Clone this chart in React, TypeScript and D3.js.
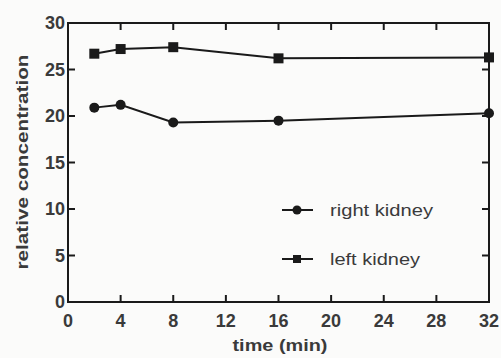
import React from "react";
import * as d3 from "d3";

const times = [2, 4, 8, 16, 32];
const rightKidney = [20.9, 21.2, 19.3, 19.5, 20.3];
const leftKidney = [26.7, 27.2, 27.4, 26.2, 26.3];
const xTicks = [0, 4, 8, 12, 16, 20, 24, 28, 32];
const yTicks = [0, 5, 10, 15, 20, 25, 30];
const seriesNames = ["right kidney", "left kidney"];

export default function App() {
  const W = 501, H = 358;
  const m = { left: 68, right: 489, top: 23, bottom: 302 };
  const x = d3.scaleLinear().domain([0, 32]).range([m.left, m.right]);
  const y = d3.scaleLinear().domain([0, 30]).range([m.bottom, m.top]);
  const line = d3.line<number>().x((_, i) => x(times[i])).y((d) => y(d));
  const tl = 7;
  const font = "'Liberation Sans', Arial, sans-serif";
  const col = "#1a1a1a";
  const txt = "#3a3a3a";
  const sq = 10;
  const legendLens = [103, 90];
  return (
    <svg width={W} height={H} style={{ position: "absolute", left: 0, top: 0, background: "#fbfbfa" }}>
      <rect x={0} y={0} width={W} height={H} fill="#fbfbfa" />
      <rect x={m.left} y={m.top} width={m.right - m.left} height={m.bottom - m.top} fill="none" stroke={col} strokeWidth={2} />
      {xTicks.map((t) => (
        <g key={"x" + t}>
          <line x1={x(t)} x2={x(t)} y1={m.bottom} y2={m.bottom - tl} stroke={col} strokeWidth={2} />
          <line x1={x(t)} x2={x(t)} y1={m.top} y2={m.top + tl} stroke={col} strokeWidth={2} />
          <text x={x(t)} y={m.bottom + 25} textAnchor="middle" fontFamily={font} fontWeight="bold" fontSize={18} fill={txt}>{t}</text>
        </g>
      ))}
      {yTicks.map((t) => (
        <g key={"y" + t}>
          <line x1={m.left} x2={m.left + tl} y1={y(t)} y2={y(t)} stroke={col} strokeWidth={2} />
          <line x1={m.right} x2={m.right - tl} y1={y(t)} y2={y(t)} stroke={col} strokeWidth={2} />
          <text x={m.left - 3} y={y(t) + 6} textAnchor="end" fontFamily={font} fontWeight="bold" fontSize={18} fill={txt}>{t}</text>
        </g>
      ))}
      <path d={line(leftKidney) || ""} fill="none" stroke={col} strokeWidth={2} />
      <path d={line(rightKidney) || ""} fill="none" stroke={col} strokeWidth={2} />
      {leftKidney.map((v, i) => (
        <rect key={"l" + i} x={x(times[i]) - sq / 2} y={y(v) - sq / 2} width={sq} height={sq} fill={col} />
      ))}
      {rightKidney.map((v, i) => (
        <circle key={"r" + i} cx={x(times[i])} cy={y(v)} r={5} fill={col} />
      ))}
      {seriesNames.map((name, i) => {
        const ly = 210 + i * 49;
        return (
          <g key={name}>
            <line x1={282} x2={313} y1={ly} y2={ly} stroke={col} strokeWidth={2} />
            {i === 0 ? (
              <circle cx={297} cy={ly} r={4.5} fill={col} />
            ) : (
              <rect x={293} y={ly - 4} width={8} height={8} fill={col} />
            )}
            <text x={330} y={ly + 6} fontFamily={font} fontSize={17} fill={txt} textLength={legendLens[i]} lengthAdjust="spacingAndGlyphs">{name}</text>
          </g>
        );
      })}
      <text x={280} y={351} textAnchor="middle" fontFamily={font} fontWeight="bold" fontSize={16} fill={txt} textLength={95} lengthAdjust="spacingAndGlyphs">time (min)</text>
      <text transform={`translate(28,162) rotate(-90)`} textAnchor="middle" fontFamily={font} fontWeight="bold" fontSize={16} fill={txt} textLength={215} lengthAdjust="spacingAndGlyphs">relative concentration</text>
    </svg>
  );
}
